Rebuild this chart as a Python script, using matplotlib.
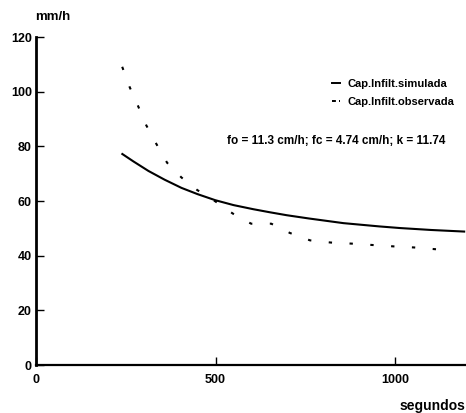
import matplotlib
matplotlib.use("Agg")
import matplotlib.pyplot as plt
from matplotlib.lines import Line2D

# ---- data ----
t_sim = [238, 271, 313, 358, 405, 450, 499, 550, 605, 650, 698, 760, 856, 956, 1014, 1100, 1195]
f_sim = [77.4, 74.5, 71.0, 67.8, 64.8, 62.5, 60.3, 58.5, 57.0, 55.9, 54.8, 53.6, 51.9, 50.7, 50.1, 49.4, 48.8]

t_obs = [240, 261, 284, 307, 335, 365, 405, 449, 500, 548, 599, 655, 707, 763, 821, 880, 937, 995, 1053, 1118, 1135]
f_obs = [109.1, 101.6, 94.8, 87.7, 80.9, 74.0, 68.6, 64.0, 59.8, 55.4, 51.7, 51.7, 48.3, 45.6, 44.8, 44.4, 43.9, 43.4, 43.0, 42.3, 42.2]

x_ticks = [0, 500, 1000]
y_ticks = [0, 20, 40, 60, 80, 100, 120]
label_sim = "Cap.Infilt.simulada"
label_obs = "Cap.Infilt.observada"
note = "fo = 11.3 cm/h; fc = 4.74 cm/h; k = 11.74"

plt.rcParams['font.family'] = ['Liberation Sans', 'DejaVu Sans']
plt.rcParams['font.weight'] = 'bold'

W, H = 466, 413
fig = plt.figure(figsize=(W / 100, H / 100), dpi=100)
ax = fig.add_axes([36 / W, 48 / H, 431 / W, 328 / H])

ax.plot(t_sim, f_sim, color='black', lw=1.5, solid_capstyle='butt', solid_joinstyle='round')
ax.plot(t_obs, f_obs, color='black', lw=1.5, dashes=(1.6, 8.4), dash_capstyle='butt')

ax.set_xlim(0, 1200)
ax.set_ylim(0, 120)
ax.set_xticks(x_ticks)
ax.set_yticks(y_ticks)
for s in ['top', 'right']:
    ax.spines[s].set_visible(False)
ax.spines['left'].set_linewidth(2.0)
ax.spines['bottom'].set_linewidth(1.6)
ax.tick_params(axis='both', direction='in', length=6, width=1.0, labelsize=9)
ax.tick_params(axis='y', pad=3)
ax.tick_params(axis='x', pad=6.5)
for lab in ax.get_xticklabels() + ax.get_yticklabels():
    lab.set_fontweight('bold')

handles = [Line2D([], [], color='black', lw=1.4),
           Line2D([], [], color='black', lw=1.4, dashes=(2.0, 1.6))]
ax.legend(handles, [label_sim, label_obs], loc='upper left',
          bbox_to_anchor=(0.687, 0.872), frameon=False,
          handlelength=0.72, handletextpad=0.63, labelspacing=0.75,
          borderpad=0, borderaxespad=0, prop={'weight': 'bold', 'size': 8})

ax.text(532, 82, note, fontsize=8.5, fontweight='bold', va='center', ha='left')

fig.text(35 / W, 1 - 17 / H, "mm/h", fontsize=9.5, fontweight='bold', va='center', ha='left')
fig.text(465 / W, 1 - 406 / H, "segundos", fontsize=10, fontweight='bold', va='center', ha='right')

fig.savefig("out.png", dpi=100)
